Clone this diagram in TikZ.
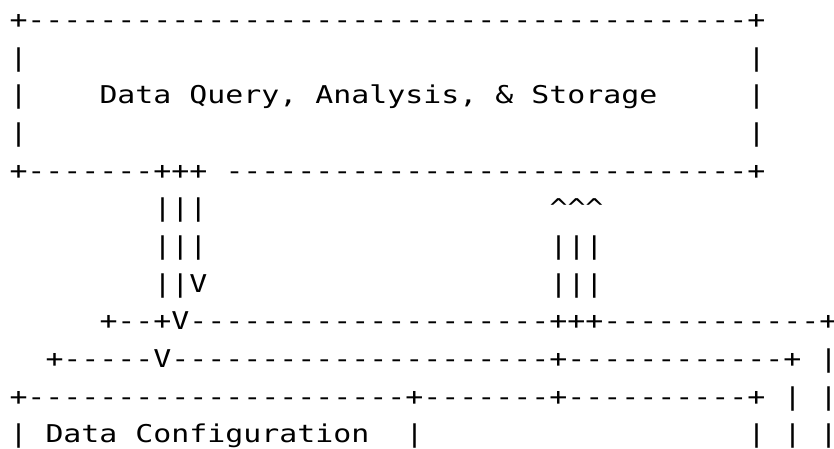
\documentclass[tikz,border=0pt]{standalone}
\usepackage{fontspec}
\newfontfamily\asciifont[FakeStretch=1.22]{DejaVu Sans Mono}
\ExplSyntaxOn
\cs_new:Npn \dsh #1 { \prg_replicate:nn {#1} { - } }
\ExplSyntaxOff
\begin{document}
\begin{tikzpicture}[
  asc/.style={font={\asciifont\fontsize{24.5pt}{24.5pt}\selectfont}, inner sep=0pt, outer sep=0pt, anchor=base west, text=black}
]
\useasboundingbox[fill=white] (0,0) rectangle (834pt,-449pt);
\begin{scope}[x=18pt, y=-37.67pt, shift={(9.5pt,-28.5pt)}]
% row 0
\node[asc] (r0) at (0,0) {+\dsh{40}+};
% row 1
\node[asc] (r1a) at (0,1) {|};
\node[asc] (r1b) at (41,1) {|};
% row 2
\node[asc] (r2a) at (0,2) {|};
\node[asc] (title) at (5,2) {Data Query, Analysis, \& Storage};
\node[asc] (r2b) at (41,2) {|};
% row 3
\node[asc] (r3a) at (0,3) {|};
\node[asc] (r3b) at (41,3) {|};
% row 4
\node[asc] (r4a) at (0,4) {+\dsh{7}+++};
\node[asc] (r4b) at (12,4) {\dsh{29}+};
% row 5
\node[asc] (r5a) at (8,5) {|||};
\node[asc] (r5b) at (30,5) {\textasciicircum\textasciicircum\textasciicircum};
% row 6
\node[asc] (r6a) at (8,6) {|||};
\node[asc] (r6b) at (30,6) {|||};
% row 7
\node[asc] (r7a) at (8,7) {||V};
\node[asc] (r7b) at (30,7) {|||};
% row 8
\node[asc] (r8) at (5,8) {+\dsh{2}+V\dsh{20}+++\dsh{12}+};
% row 9
\node[asc] (r9a) at (2,9) {+\dsh{5}V\dsh{21}+\dsh{12}+};
\node[asc] (r9b) at (45,9) {|};
% row 10
\node[asc] (r10a) at (0,10) {+\dsh{21}+\dsh{7}+\dsh{10}+};
\node[asc] (r10b) at (43,10) {|};
\node[asc] (r10c) at (45,10) {|};
% row 11
\node[asc] (r11a) at (0,11) {|};
\node[asc] (config) at (2,11) {Data Configuration};
\node[asc] (r11b) at (22,11) {|};
\node[asc] (r11c) at (41,11) {|};
\node[asc] (r11d) at (43,11) {|};
\node[asc] (r11e) at (45,11) {|};
\end{scope}
\end{tikzpicture}
\end{document}
